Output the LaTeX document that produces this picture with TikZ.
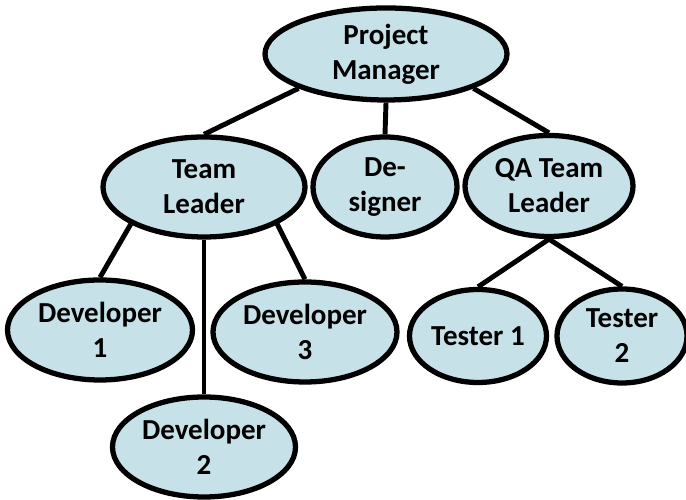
\documentclass[tikz,border=0pt]{standalone}
\usepackage{fontspec}
\setmainfont{Carlito}
\usepackage{tikz}
\usetikzlibrary{shapes.geometric}
\definecolor{boxfill}{HTML}{C6E2E8}

\begin{document}
\begin{tikzpicture}[
  font=\fontsize{16.5}{20}\selectfont\bfseries,
  box/.style={ellipse,draw=black,fill=boxfill,line width=3pt,inner sep=0pt,align=center},
  lnk/.style={draw=black,line width=2.8pt},
]
\useasboundingbox (0,0) rectangle (13.72,10);

\node[box,minimum width=4.84cm,minimum height=1.84cm] (pm) at (7.72,8.92) {Project\\Manager};
\node[box,minimum width=4.04cm,minimum height=2.0cm] (tl) at (4.08,6.26) {Team\\Leader};
\node[box,minimum width=2.88cm,minimum height=2.0cm] (des) at (7.70,6.26) {De-\\signer};
\node[box,minimum width=3.36cm,minimum height=2.02cm] (qa) at (10.98,6.28) {QA Team\\Leader};
\node[box,minimum width=3.7cm,minimum height=2.0cm] (dev1) at (2.0,3.4) {Developer\\1};
\node[box,minimum width=3.66cm,minimum height=2.0cm] (dev2) at (4.08,1.06) {Developer\\2};
\node[box,minimum width=3.68cm,minimum height=2.0cm] (dev3) at (6.10,3.36) {Developer\\3};
\node[box,minimum width=2.74cm,minimum height=1.86cm] (tst1) at (9.56,3.28) {Tester 1};
\node[box,minimum width=2.6cm,minimum height=1.88cm] (tst2) at (12.44,3.28) {Tester\\2};

\draw[lnk] (pm.south west) -- (tl.north);
\draw[lnk] (pm.south) -- (des.north);
\draw[lnk] (pm.south east) -- (qa.north);
\draw[lnk] (tl.south west) -- (dev1.north);
\draw[lnk] (tl.south) -- (dev2.north);
\draw[lnk] (tl.south east) -- (dev3.north);
\draw[lnk] (qa.south) -- (tst1.north);
\draw[lnk] (qa.south) -- (tst2.north);
\end{tikzpicture}
\end{document}
